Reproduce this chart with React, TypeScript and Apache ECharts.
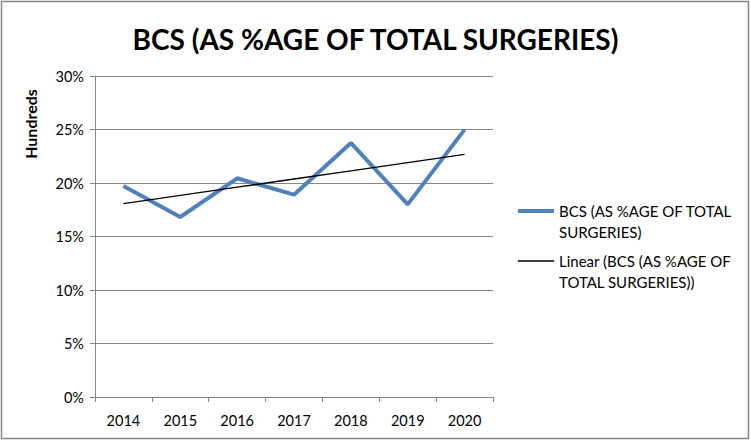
import React, { useEffect, useRef } from "react";
import * as echarts from "echarts";

const title = "BCS (AS %AGE OF TOTAL SURGERIES)";
const categories = ["2014", "2015", "2016", "2017", "2018", "2019", "2020"];
const bcsValues = [19.72, 16.82, 20.44, 18.91, 23.74, 18.0, 24.99];
const yTicks = [0, 5, 10, 15, 20, 25, 30];
const seriesName = "BCS (AS %AGE OF TOTAL SURGERIES)";
const trendName = "Linear (BCS (AS %AGE OF TOTAL SURGERIES))";
const legendLabels: Record<string, string> = {
  [seriesName]: "BCS (AS %AGE OF TOTAL\nSURGERIES)",
  [trendName]: "Linear (BCS (AS %AGE OF\nTOTAL SURGERIES))",
};

function linearTrend(vals: number[]): number[] {
  const n = vals.length;
  const mx = (n - 1) / 2;
  const my = vals.reduce((a, b) => a + b, 0) / n;
  let num = 0;
  let den = 0;
  vals.forEach((v, i) => {
    num += (i - mx) * (v - my);
    den += (i - mx) * (i - mx);
  });
  const slope = num / den;
  return vals.map((_, i) => my + slope * (i - mx));
}

const FONT = "Lato, 'Liberation Sans', sans-serif";

export default function App() {
  const ref = useRef<HTMLDivElement>(null);
  useEffect(() => {
    document.body.style.margin = "0";
    const chart = echarts.init(ref.current!, null, { renderer: "svg" });
    const trend = linearTrend(bcsValues);
    const legendCommon = {
      orient: "vertical" as const,
      padding: 0,
      itemWidth: 36,
      itemHeight: 42,
      itemGap: 0,
      selectedMode: false,
      formatter: (n: string) => legendLabels[n] || n,
      textStyle: {
        fontFamily: FONT,
        fontSize: 15,
        color: "#000",
        lineHeight: 21,
      },
    };
    chart.setOption({
      animation: false,
      backgroundColor: "#fff",
      textStyle: { fontFamily: FONT },
      title: {
        text: title,
        left: "center",
        top: 20,
        textStyle: { fontFamily: FONT, fontSize: 28, fontWeight: "bold", color: "#000" },
      },
      legend: [
        {
          ...legendCommon,
          left: 518,
          top: 200.5,
          data: [
            {
              name: seriesName,
              icon: "path://M0,0L36,0M0,8.5H36V12.5H0ZM0,42L36,42",
              itemStyle: { color: "#4F81BD", borderWidth: 0 },
            },
          ],
        },
        {
          ...legendCommon,
          left: 518,
          top: 250.5,
          data: [
            {
              name: trendName,
              icon: "path://M0,0L36,0M0,9.75H36V11.25H0ZM0,42L36,42",
              itemStyle: { color: "#000", borderWidth: 0 },
            },
          ],
        },
      ],
      grid: { left: 95, right: 258, top: 76, bottom: 44, containLabel: false },
      xAxis: {
        type: "category",
        data: categories,
        boundaryGap: true,
        axisLine: { lineStyle: { color: "#868686", width: 1 } },
        axisTick: { show: true, length: 5, alignWithLabel: false, lineStyle: { color: "#868686" } },
        axisLabel: { color: "#000", fontSize: 14.5, fontFamily: FONT, margin: 16 },
        splitLine: { show: false },
      },
      yAxis: {
        type: "value",
        min: yTicks[0],
        max: yTicks[yTicks.length - 1],
        interval: 5,
        axisLine: { show: true, lineStyle: { color: "#868686", width: 1 } },
        axisTick: { show: true, length: 5, lineStyle: { color: "#868686" } },
        axisLabel: {
          color: "#000",
          fontSize: 14.5,
          fontFamily: FONT,
          margin: 11,
          formatter: (v: number) => `${v}%`,
        },
        splitLine: { show: true, lineStyle: { color: "#868686", width: 1 } },
      },
      graphic: [
        {
          type: "rect",
          shape: { x: 1.5, y: 1.5, width: 747, height: 437 },
          style: { fill: "none", stroke: "#868686", lineWidth: 1.5 },
          silent: true,
          z: 100,
        },
        {
          type: "text",
          x: 30,
          y: 124,
          rotation: Math.PI / 2,
          style: {
            text: "Hundreds",
            fontFamily: FONT,
            fontSize: 16,
            fontWeight: "bold",
            fill: "#000",
            align: "center",
            verticalAlign: "middle",
          },
        },
      ],
      series: [
        {
          name: seriesName,
          type: "line",
          data: bcsValues,
          symbol: "none",
          lineStyle: { color: "#4F81BD", width: 4 },
          itemStyle: { color: "#4F81BD" },
          z: 2,
        },
        {
          name: trendName,
          type: "line",
          data: trend,
          symbol: "none",
          lineStyle: { color: "#000", width: 1.3 },
          itemStyle: { color: "#000" },
          z: 3,
        },
      ],
    });
    return () => chart.dispose();
  }, []);
  return <div ref={ref} style={{ width: 751, height: 441 }} />;
}
